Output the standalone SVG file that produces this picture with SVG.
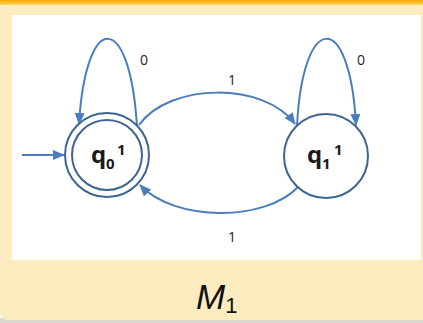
<svg xmlns="http://www.w3.org/2000/svg" width="423" height="323" viewBox="0 0 423 323">
  <defs>
    <linearGradient id="topbar" x1="0" y1="0" x2="0" y2="1">
      <stop offset="0" stop-color="#f4a700"/>
      <stop offset="1" stop-color="#fbd46a"/>
    </linearGradient>
    <marker id="arrow" markerUnits="userSpaceOnUse" markerWidth="12" markerHeight="10" refX="11" refY="5" orient="auto">
      <path d="M0,0 L12,5 L0,10 Z" fill="#4a7dbb"/>
    </marker>
  </defs>
  <style>
    .state { fill: #ffffff; stroke: #3e6491; stroke-width: 2; }
    .edge { fill: none; stroke: #4a7dbb; stroke-width: 2; marker-end: url(#arrow); }
    .lbl { font-family: "Open Sans", "Liberation Sans", sans-serif; font-size: 14px; fill: #222; }
    .sl { font-family: "Open Sans", "Liberation Sans", sans-serif; font-weight: bold; fill: #1a1a1a; }
  </style>
  <!-- frame -->
  <rect x="0" y="318" width="423" height="5" fill="#b8b0a0" opacity="0.5"/>
  <rect x="0" y="0" width="423" height="320" rx="8" fill="#fdecc0"/>
  <rect x="8" y="0" width="415" height="320" fill="#fdecc0"/>
  <rect x="0" y="0" width="423" height="5" fill="url(#topbar)"/>
  <rect x="12" y="15" width="409" height="245" fill="#ffffff"/>

  <g id="connectors">
    <path class="edge" d="M22,155 L64,155"/>
    <path class="edge" d="M137,127 C130,10 86,10 79,124"/>
    <path class="edge" d="M297,126 C303,10 350,10 356,125"/>
    <path class="edge" d="M139,125 C170,82 265,82 295,124"/>
    <path class="edge" d="M298,187 C265,222 175,222 140,185"/>
    <text class="lbl" x="140" y="65">0</text>
    <text class="lbl" x="357" y="65">0</text>
    <text class="lbl" x="228" y="85">1</text>
    <text class="lbl" x="228" y="242">1</text>
  </g>

  <g id="q0">
    <circle class="state" cx="107" cy="155" r="42"/>
    <circle class="state" cx="107" cy="155" r="35"/>
    <text class="sl" x="91" y="163" font-size="24">q</text>
    <text class="sl" x="106" y="169" font-size="15">0</text>
    <text class="sl" x="117" y="155" font-size="15">1</text>
  </g>

  <g id="q1">
    <circle class="state" cx="326" cy="156" r="42"/>
    <text class="sl" x="307" y="163" font-size="24">q</text>
    <text class="sl" x="322" y="169" font-size="15">1</text>
    <text class="sl" x="334" y="155" font-size="15">1</text>
  </g>

  <g id="title">
    <text x="196" y="309" font-family="Liberation Sans, Arial, sans-serif" font-style="italic" font-size="35" fill="#111">M<tspan font-style="normal" font-size="22" dy="4">1</tspan></text>
  </g>
</svg>
